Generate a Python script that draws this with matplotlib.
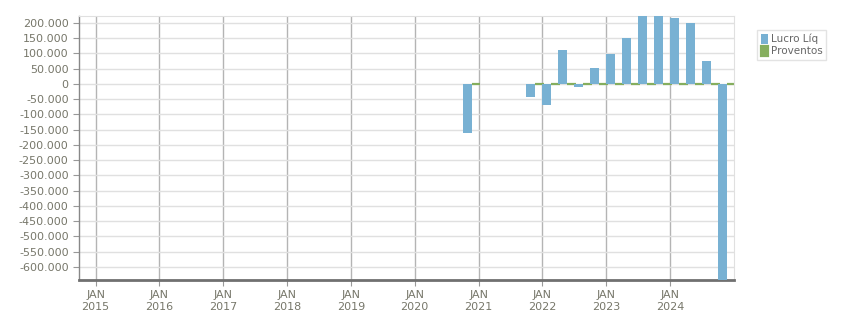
import numpy as np
import pandas as pd
import matplotlib.pyplot as plt
import matplotlib.dates as mdates
from matplotlib.ticker import FuncFormatter

# quarterly data (quarter start dates)
quarters = ['2020-10-01', '2021-10-01', '2022-01-01', '2022-04-01', '2022-07-01',
            '2022-10-01', '2023-01-01', '2023-04-01', '2023-07-01', '2023-10-01',
            '2024-01-01', '2024-04-01', '2024-07-01', '2024-10-01']
lucro_liq = [-162000, -44000, -68000, 110000, -9000, 51000, 97000, 150000,
             223000, 223000, 216000, 200000, 77000, -660000]
proventos = [0] * len(quarters)
year_ticks = list(range(2015, 2025))

dates = pd.to_datetime(quarters)
x = mdates.date2num(dates)
bar_w = 51  # days

fig = plt.figure(figsize=(8.51, 3.13), dpi=100)
ax = fig.add_axes([79 / 851, 1 - 280 / 313, 655 / 851, 264 / 313])

blue = '#78b1d3'
green = '#85ae5e'
txt = '#77776a'

ax.bar(x + bar_w, proventos, width=bar_w, align='edge', color=green,
       edgecolor=green, linewidth=1.6, label='Proventos', zorder=2)
ax.bar(x, lucro_liq, width=bar_w, align='edge', color=blue,
       label='Lucro Líq', zorder=3)

ax.set_xlim(mdates.date2num(pd.Timestamp('2014-09-28')),
            mdates.date2num(pd.Timestamp('2025-01-01')))
ax.set_ylim(-643000, 223000)

ax.set_yticks(np.arange(-600000, 200001, 50000))
ax.yaxis.set_major_formatter(FuncFormatter(lambda v, p: f'{int(v):,}'.replace(',', '.')))
ax.set_xticks([mdates.date2num(pd.Timestamp(f'{y}-01-01')) for y in year_ticks])
ax.set_xticklabels([f'JAN\n{y}' for y in year_ticks])

ax.grid(axis='y', color='#e0e0e0', linewidth=1, zorder=0)
ax.grid(axis='x', color='#b4b4b4', linewidth=1, zorder=1)
ax.set_axisbelow(True)

ax.tick_params(axis='both', labelsize=8, colors='#999999', labelcolor=txt, length=4)
ax.tick_params(axis='x', pad=3)
for lbl in ax.get_xticklabels():
    lbl.set_linespacing(1.3)

ax.spines['left'].set_color('#888888')
ax.spines['left'].set_linewidth(1)
ax.spines['bottom'].set_color('#707070')
ax.spines['bottom'].set_linewidth(2)
ax.spines['top'].set_color('#e0e0e0')
ax.spines['right'].set_color('#e0e0e0')

handles, labels = ax.get_legend_handles_labels()
leg = fig.legend(handles[::-1], labels[::-1], loc='upper left',
                 bbox_to_anchor=(757 / 851, 1 - 30 / 313), fontsize=7.5,
                 frameon=True, fancybox=False, handlelength=0.7, handleheight=1.1,
                 handletextpad=0.3, borderpad=0.35, labelspacing=0.15,
                 borderaxespad=0)
leg.get_frame().set_edgecolor('#dddddd')
leg.get_frame().set_linewidth(1)
for t in leg.get_texts():
    t.set_color('#666666')

fig.savefig('out.png', dpi=100)
